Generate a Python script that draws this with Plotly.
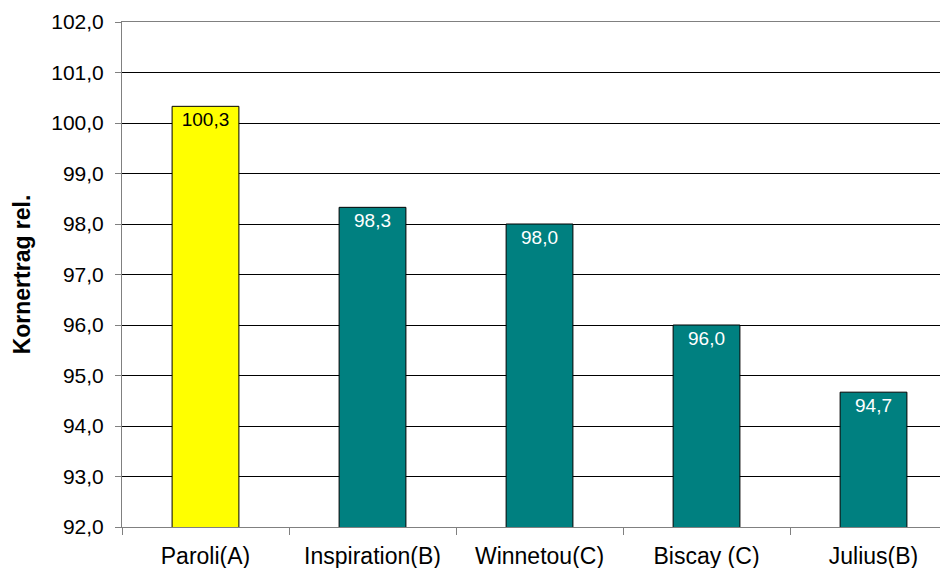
import plotly.graph_objects as go

categories = ["Paroli(A)", "Inspiration(B)", "Winnetou(C)", "Biscay (C)", "Julius(B)"]
values = [100.33, 98.33, 98.0, 96.0, 94.67]
bar_colors = ["#FFFF00", "#008080", "#008080", "#008080", "#008080"]
label_colors = ["#000000", "#FFFFFF", "#FFFFFF", "#FFFFFF", "#FFFFFF"]
y_title = "Kornertrag rel."

fig = go.Figure()
fig.add_trace(go.Bar(
    x=categories, y=values,
    marker=dict(color=bar_colors, line=dict(color="#000000", width=1)),
    texttemplate="%{y:.1f}",
    textposition="inside",
    insidetextanchor="end",
    textfont=dict(family="Liberation Sans, Arial", size=19, color=label_colors),
    constraintext="none",
    cliponaxis=False,
))

fig.update_layout(
    width=940, height=560,
    margin=dict(l=114, r=0, t=14, b=41),
    paper_bgcolor="white", plot_bgcolor="white",
    separators=",.",
    bargap=0.6,
    showlegend=False,
    font=dict(family="Liberation Sans, Arial", color="#000000"),
)
fig.update_xaxes(
    range=[-0.5, 4.446],
    showline=True, linecolor="#808080", linewidth=1, mirror=True,
    ticks="outside", ticklen=7, tickcolor="#808080", tickson="boundaries",
    tickfont=dict(size=23),
    ticklabelstandoff=8,
    showgrid=False,
)
fig.update_yaxes(
    range=[92, 102], dtick=1, tick0=92, tickformat=".1f",
    showline=True, linecolor="#808080", linewidth=1,
    ticks="outside", ticklen=6, tickcolor="#808080",
    ticklabelstandoff=7,
    showgrid=True, gridcolor="#000000", gridwidth=1,
    tickfont=dict(size=21),
    title=dict(text="<b>" + y_title + "</b>", font=dict(size=23), standoff=14),
    zeroline=False,
)

fig.write_html("out.html")
